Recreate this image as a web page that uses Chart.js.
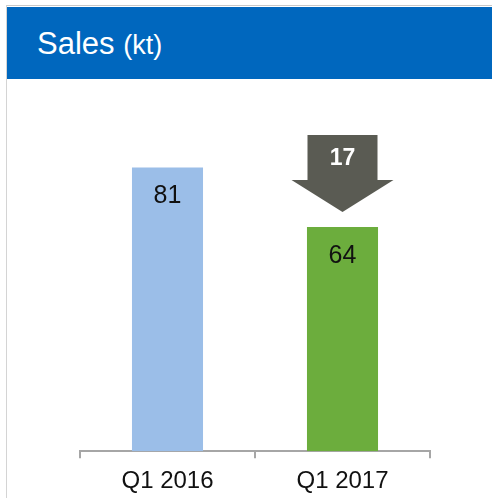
<!DOCTYPE html>
<html>
<head>
<meta charset="utf-8">
<script src="https://cdn.jsdelivr.net/npm/chart.js@4"></script>
<style>
  html, body { margin: 0; padding: 0; background: #fff; }
  body { width: 492px; height: 498px; position: relative; overflow: hidden; font-family: "Liberation Sans", Arial, sans-serif; }
  #frame { position: absolute; left: 6px; top: 5px; width: 486px; height: 493px; border-left: 1px solid #d4d4d4; border-top: 1px solid #c8c8c8; }
  #header { position: absolute; left: 7px; top: 7px; width: 485px; height: 72px; background: #0067BE; color: #fff; }
  #header .t { position: absolute; left: 30px; top: 20px; font-size: 31px; line-height: 34px; white-space: nowrap; }
  #header .u { font-size: 27px; }
  #chart { position: absolute; left: 7px; top: 79px; }
</style>
</head>
<body>
<div id="frame"></div>
<div id="header"><div class="t">Sales <span class="u">(kt)</span></div></div>
<canvas id="chart" width="485" height="432"></canvas>
<script>
// chart data
const categories = ['Q1 2016', 'Q1 2017'];
const salesValues = [81, 64];
const barColors = ['#9BBEE8', '#6CAD3D'];

document.addEventListener('DOMContentLoaded', function () {
  const fontFamily = '"Liberation Sans", Arial, sans-serif';

  // draw values inside the top of each bar
  const valueLabels = {
    id: 'valueLabels',
    afterDatasetsDraw(chart) {
      const ctx = chart.ctx;
      const meta = chart.getDatasetMeta(0);
      ctx.save();
      ctx.fillStyle = '#111';
      ctx.font = '25px ' + fontFamily;
      ctx.textAlign = 'center';
      ctx.textBaseline = 'middle';
      meta.data.forEach(function (bar, i) {
        ctx.fillText(String(salesValues[i]), bar.x, bar.y + 29);
      });
      ctx.restore();
    }
  };

  // down arrow above the second bar showing the drop
  const dropArrow = {
    id: 'dropArrow',
    afterDatasetsDraw(chart) {
      const ctx = chart.ctx;
      const meta = chart.getDatasetMeta(0);
      const bar = meta.data[1];
      const drop = salesValues[0] - salesValues[1];
      const tip = bar.y - 15;
      const shaftHalf = 35, headHalf = 51;
      const top = tip - 77, headTop = tip - 32;
      ctx.save();
      ctx.fillStyle = '#5A5B53';
      ctx.beginPath();
      ctx.moveTo(bar.x - shaftHalf, top);
      ctx.lineTo(bar.x + shaftHalf, top);
      ctx.lineTo(bar.x + shaftHalf, headTop);
      ctx.lineTo(bar.x + headHalf, headTop);
      ctx.lineTo(bar.x, tip);
      ctx.lineTo(bar.x - headHalf, headTop);
      ctx.lineTo(bar.x - shaftHalf, headTop);
      ctx.closePath();
      ctx.fill();
      ctx.fillStyle = '#fff';
      ctx.font = 'bold 23px ' + fontFamily;
      ctx.textAlign = 'center';
      ctx.textBaseline = 'middle';
      ctx.fillText(String(drop), bar.x, top + 24);
      ctx.restore();
    }
  };

  const ctx = document.getElementById('chart').getContext('2d');
  new Chart(ctx, {
    type: 'bar',
    data: {
      labels: categories,
      datasets: [{
        data: salesValues,
        backgroundColor: barColors,
        borderWidth: 0,
        barPercentage: 0.406,
        categoryPercentage: 1
      }]
    },
    options: {
      responsive: false,
      animation: false,
      layout: { padding: { left: 73, right: 62, top: 22, bottom: 6 } },
      plugins: {
        legend: { display: false },
        tooltip: { enabled: false },
        title: { display: false }
      },
      scales: {
        x: {
          offset: true,
          grid: {
            offset: true,
            drawOnChartArea: false,
            drawTicks: true,
            tickLength: 7,
            color: '#A6A6A6',
            lineWidth: 2
          },
          border: { color: '#A6A6A6', width: 2 },
          ticks: {
            color: '#111',
            padding: 9,
            font: { size: 24, family: fontFamily }
          }
        },
        y: {
          display: false,
          min: 0,
          max: 100
        }
      }
    },
    plugins: [valueLabels, dropArrow]
  });
});
</script>
</body>
</html>
